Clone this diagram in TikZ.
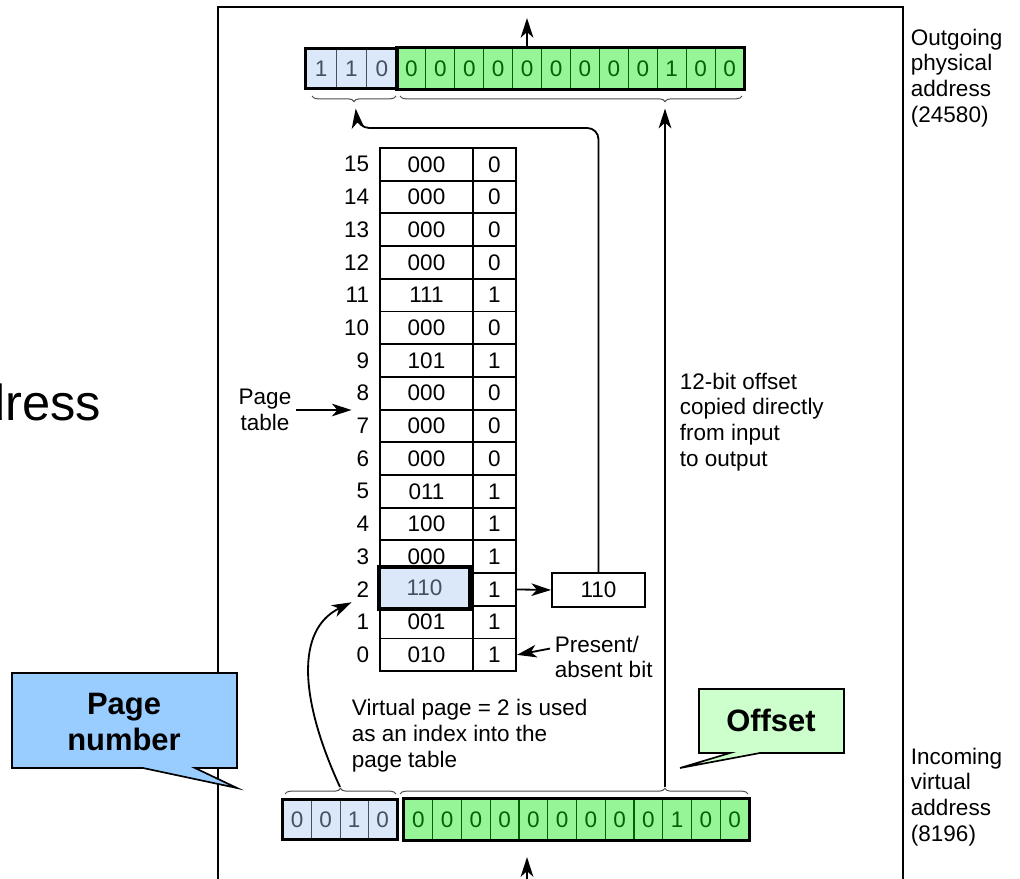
\documentclass[tikz,border=0pt]{standalone}
\usepackage{fontspec}
\setmainfont{Liberation Sans}
\usetikzlibrary{arrows.meta,decorations.pathreplacing,fit,calc}

\definecolor{pageblue}{RGB}{219,232,250}
\definecolor{pagetext}{RGB}{70,80,95}
\definecolor{offgreen}{RGB}{150,245,150}
\definecolor{darkgreen}{RGB}{0,100,0}
\definecolor{calloutblue}{RGB}{153,204,255}
\definecolor{calloutgreen}{RGB}{204,255,204}

\tikzset{
	arr/.style = {line width=1.3pt, -{Stealth[length=14pt,width=9pt,inset=4pt]}},
	pframe/.style = {draw, line width=1.4pt, minimum width=2.325cm, minimum height=0.8175cm, inner sep=0pt},
	pbit/.style = {pframe, minimum width=1.075cm},
	bitblue/.style = {draw=pagetext, line width=0.6pt, fill=pageblue, text=pagetext, minimum height=1cm, inner sep=0pt},
	bitgreen/.style = {draw=darkgreen, line width=0.8pt, fill=offgreen, text=darkgreen, minimum height=1cm, inner sep=0pt},
	regbox/.style = {draw, line width=2.2pt, inner sep=0pt},
	brace/.style = {decorate, draw=gray!60!black, line width=0.7pt},
	note/.style = {align=left, anchor=west},
	callout/.style = {draw, line width=1.2pt},
	big/.style = {font=\fontsize{22}{25.5}\selectfont\bfseries, align=center}
}

\begin{document}
\begin{tikzpicture} [x=0.025cm, y=-0.025cm, font=\fontsize{16}{18.4}\selectfont]
	\useasboundingbox (0,0) rectangle (1020,879);
	\draw [line width=1.2pt] (218,900) -- (218,7) -- (903,7) -- (903,900);
	\node [anchor=base east, font=\fontsize{36}{40}\selectfont] (title) at (106,420) {dress};

	% page table, entries 15 down to 0
	\foreach \n/\f/\b [count=\r from 0] in {15/000/0, 14/000/0, 13/000/0, 12/000/0, 11/111/1, 10/000/0, 9/101/1, 8/000/0, 7/000/0, 6/000/0, 5/011/1, 4/100/1, 3/000/1, 2/110/1, 1/001/1, 0/010/1} {
		\node [anchor=east] (l\n) at (374, 164.35+32.7*\r) {\n};
		\node [pframe] (f\n) at (426.5, 164.35+32.7*\r) {\f};
		\node [pbit] (b\n) at (494.5, 164.35+32.7*\r) {\b};
	}
	\node [pframe, line width=2.2pt, fill=pageblue, text=pagetext, minimum width=2.275cm, minimum height=1.05cm] (sel) at (424.5,588) {110};
	\node [pframe, minimum height=0.85cm] (frame) at (598.5,590) {110};

	% outgoing physical address
	\foreach \v [count=\i] in {1,1,0}
		\node [bitblue, minimum width=0.758cm] (op\i) at (306+30.33*\i-15.17, 68.5) {\v};
	\foreach \v [count=\i] in {0,0,0,0,0,0,0,0,0,1,0,0}
		\node [bitgreen, minimum width=0.723cm] (oo\i) at (397+28.92*\i-14.46, 68.5) {\v};
	\node [regbox, fit=(op1)(op3)] (outpage) {};
	\node [regbox, fit=(oo1)(oo12)] (outoff) {};

	% incoming virtual address
	\foreach \v [count=\i] in {0,0,1,0}
		\node [bitblue, minimum width=0.7125cm] (ip\i) at (283+28.5*\i-14.25, 819.5) {\v};
	\foreach \v [count=\i] in {0,0,0,0,0,0,0,0,0,1,0,0}
		\node [bitgreen, minimum width=0.719cm] (io\i) at (404+28.75*\i-14.375, 819.5) {\v};
	\node [regbox, fit=(ip1)(ip4)] (inpage) {};
	\node [regbox, fit=(io1)(io12)] (inoff) {};

	% braces
	\draw [brace, decoration={brace, mirror, amplitude=4pt}] (312,96) -- (396,96);
	\draw [brace, decoration={brace, mirror, amplitude=4pt, aspect=0.775}] (400,96) -- (742,96);
	\draw [brace, decoration={brace, amplitude=4pt}] (285,794) -- (396,794);
	\draw [brace, decoration={brace, amplitude=4pt, aspect=0.761}] (400,794) -- (748,794);
	\coordinate (outpagetip) at (355,103);
	\coordinate (outofftip) at (665,103);
	\coordinate (inpagetip) at (340,787);
	\coordinate (inofftip) at (665,787);
	\coordinate (outtip) at (527,18);
	\coordinate (intail) at (527,890);

	% connectors
	\draw [arr] (outtip |- outoff.north) -- (outtip);
	\draw [arr, shorten >=11pt] (intail) -- (intail |- inoff.south);
	\draw [arr, shorten >=4pt] (inofftip) -- (outofftip);
	\draw [arr] (b2.east) -- (frame.west);
	\draw [arr, rounded corners=8pt, shorten >=4pt] (frame.north) |- (358,128) -- (outpagetip);
	\draw [arr] (inpagetip) .. controls (300,700) and (295,630) .. (l2.south west);

	% labels
	\node [align=center] (ptab) at (265,410) {Page\\table};
	\draw [arr] (ptab.east) -- (ptab.east -| l8.west);
	\node [note] (pabit) at (550,657) {Present/\\absent bit};
	\draw [arr] ([yshift=6pt]pabit.west) -- (b0.east);
	\node [note] (copy) at (675,422) {12-bit offset\\copied directly\\from input\\to output};
	\node [note] (index) at (347,736) {Virtual page = 2 is used\\as an index into the\\page table};
	\node [note] (outlbl) at (906,78) {Outgoing\\physical\\address\\(24580)};
	\node [note] (inlbl) at (906,797) {Incoming\\virtual\\address\\(8196)};

	% callouts
	\draw [callout, fill=calloutblue] (12,673) -- (237,673) -- (237,768) -- (195,768) -- (237,788) -- (143,768) -- (12,768) -- cycle;
	\node [big] (pnum) at (124,722) {Page\\number};
	\draw [callout, fill=calloutgreen] (699,689) -- (844,689) -- (844,753) -- (760,753) -- (680,768) -- (730,753) -- (699,753) -- cycle;
	\node [big] (offs) at (771,720) {Offset};
\end{tikzpicture}
\end{document}
